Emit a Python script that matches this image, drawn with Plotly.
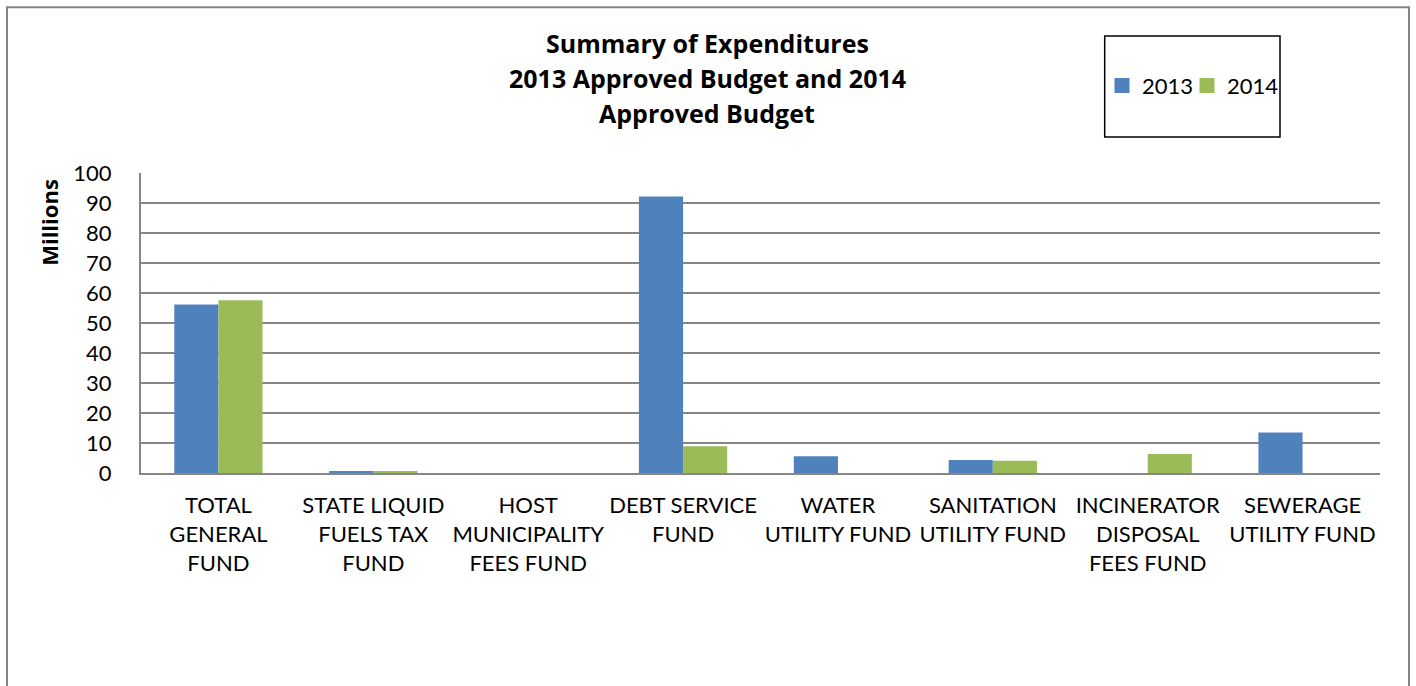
import plotly.graph_objects as go

categories = [
    "TOTAL<br>GENERAL<br>FUND",
    "STATE LIQUID<br>FUELS TAX<br>FUND",
    "HOST<br>MUNICIPALITY<br>FEES FUND",
    "DEBT SERVICE<br>FUND",
    "WATER<br>UTILITY FUND",
    "SANITATION<br>UTILITY FUND",
    "INCINERATOR<br>DISPOSAL<br>FEES FUND",
    "SEWERAGE<br>UTILITY FUND",
]
series_names = ["2013", "2014"]
values_2013 = [56.2, 0.7, 0.0, 92.2, 5.6, 4.3, 0.0, 13.5]
values_2014 = [57.6, 0.7, 0.0, 8.9, 0.0, 4.1, 6.3, 0.0]
y_ticks = [0, 10, 20, 30, 40, 50, 60, 70, 80, 90, 100]
title_lines = ["Summary of Expenditures", "2013 Approved Budget and 2014", "Approved Budget"]
y_title = "Millions"

colors = ["#4F81BD", "#9BBB59"]
FONT = "Lato"
BOLD_FONT = "Open Sans"

W, H = 1416, 686
L, R, T, B = 141, 1380, 172.7, 472.7


def px_x(p):
    return (p - L) / (R - L)


def px_y(p):
    return (B - p) / (B - T)


idx = list(range(len(categories)))
legend_ids = ["legend", "legend2"]
legend_lefts = [1102, 1187]

fig = go.Figure()
for name, vals, col, lg in zip(series_names, [values_2013, values_2014], colors, legend_ids):
    fig.add_trace(go.Bar(x=idx, y=vals, name=name, marker_color=col,
                         marker_line_width=0, showlegend=False))
    fig.add_trace(go.Scatter(x=[None], y=[None], mode="markers", name=name,
                             legend=lg, showlegend=True,
                             marker=dict(symbol="square", size=15, color=col)))

annotations = []
for line, yc in zip(title_lines, [43, 78, 113]):
    annotations.append(dict(text="<b>%s</b>" % line, x=px_x(707), y=px_y(yc),
                            xref="paper", yref="paper", showarrow=False,
                            xanchor="center", yanchor="middle",
                            font=dict(family=BOLD_FONT, size=25, color="black")))
annotations.append(dict(text="<b>%s</b>" % y_title, x=px_x(49), y=px_y(222.5),
                        xref="paper", yref="paper", showarrow=False, textangle=-90,
                        xanchor="center", yanchor="middle",
                        font=dict(family=BOLD_FONT, size=22, color="black")))

shapes = [
    dict(type="rect", xref="paper", yref="paper",
         x0=px_x(7), x1=px_x(1409), y0=px_y(7), y1=px_y(700),
         line=dict(color="#868686", width=2), layer="below"),
    dict(type="rect", xref="paper", yref="paper",
         x0=px_x(1104.7), x1=px_x(1280), y0=px_y(35.7), y1=px_y(136.7),
         line=dict(color="black", width=1.5)),
]

legend_style = dict(orientation="h", xanchor="left", y=px_y(85.5), yanchor="middle",
                    font=dict(family=FONT, size=22, color="black"),
                    bgcolor="rgba(0,0,0,0)", borderwidth=0)

fig.update_layout(
    width=W, height=H,
    margin=dict(l=L, r=W - R, t=T, b=H - B, pad=0),
    paper_bgcolor="white", plot_bgcolor="white",
    barmode="group", bargap=0.43, bargroupgap=0,
    font=dict(family=FONT, size=22, color="black"),
    showlegend=True,
    legend=dict(x=px_x(legend_lefts[0]), **legend_style),
    legend2=dict(x=px_x(legend_lefts[1]), **legend_style),
    annotations=annotations,
    shapes=shapes,
    xaxis=dict(range=[-0.5, len(categories) - 0.5], tickmode="array",
               tickvals=idx, ticktext=categories, tickangle=0,
               showline=True, linecolor="#868686", linewidth=2,
               showgrid=False, zeroline=False, ticks="",
               ticklabelstandoff=12,
               tickfont=dict(family=FONT, size=22, color="black")),
    yaxis=dict(range=[0, 100], tickmode="array", tickvals=y_ticks,
               ticktext=[str(v) for v in y_ticks],
               showline=True, linecolor="#868686", linewidth=2,
               showgrid=True, gridcolor="#868686", gridwidth=2,
               zeroline=False, ticks="", ticklabelstandoff=23,
               tickfont=dict(family=FONT, size=22, color="black")),
)

fig.write_html("out.html", config={"displayModeBar": False},
               post_script="document.body.style.margin='0';")
